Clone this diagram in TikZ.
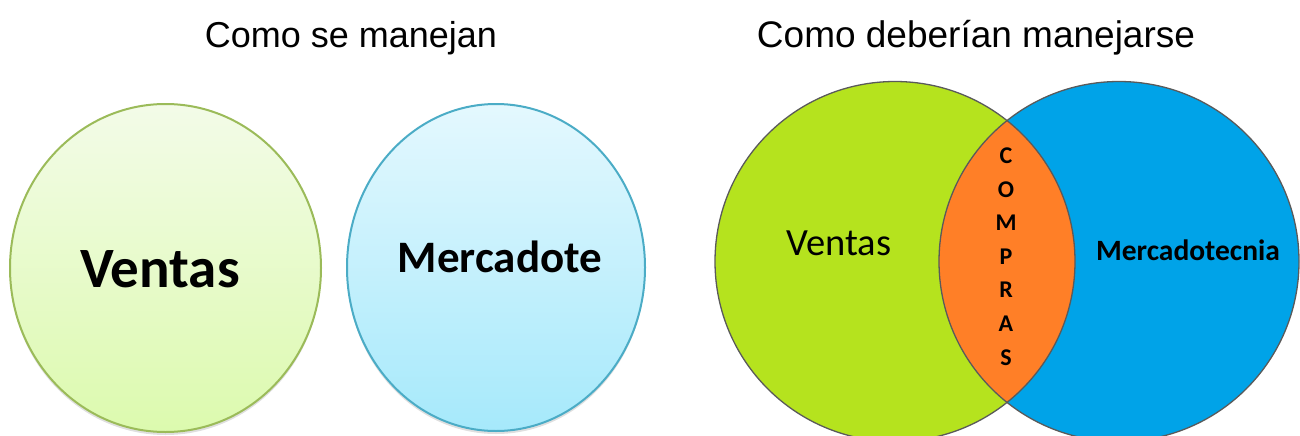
\documentclass[tikz,border=0pt]{standalone}
\usepackage{fontspec}
\setmainfont{Liberation Sans}
\newfontfamily\calibri{Carlito}
\usetikzlibrary{shapes.geometric, shadows}
\definecolor{olivegreen}{HTML}{9BBB59}
\definecolor{palegreentop}{HTML}{F3FBE8}
\definecolor{palegreenbot}{HTML}{DCFAAE}
\definecolor{aquaedge}{HTML}{4BACC6}
\definecolor{paleaquatop}{HTML}{E4F8FE}
\definecolor{paleaquabot}{HTML}{A6E9FB}
\definecolor{limegreen}{HTML}{B5E31E}
\definecolor{skyblue}{HTML}{00A3E8}
\definecolor{tangerine}{HTML}{FF7F27}
\definecolor{rimgray}{HTML}{5A5A5A}

\begin{document}
\begin{tikzpicture}[
            x=1pt, y=-1pt,
            title/.style={anchor=base, font=\fontsize{36}{40}\selectfont},
            blob/.style={ellipse, inner sep=0pt, line width=2pt, shading=axis,
                         drop shadow={opacity=0.25, shadow xshift=0pt, shadow yshift=-3pt}},
            venn/.style={circle, minimum size=360pt, inner sep=0pt},
            rim/.style={draw=rimgray, line width=1.3pt},
            letter/.style={anchor=base, font=\calibri\bfseries\fontsize{24}{26}\selectfont}
        ]
            \useasboundingbox (0,0) rectangle (1300,436);

            % titles
            \node[title] (howis) at (351,48) {Como se manejan};
            \node[title, font=\fontsize{37}{40}\selectfont] (howshould) at (976,48) {Como deberían manejarse};

            % como se manejan
            \node[blob, draw=olivegreen, top color=palegreentop, bottom color=palegreenbot,
                  minimum width=311pt, minimum height=328pt] (ventasA) at (165.5,268) {};
            \node[blob, draw=aquaedge, top color=paleaquatop, bottom color=paleaquabot,
                  minimum width=298pt, minimum height=327pt] (mercaA) at (496,267.5) {};
            \node[anchor=base, font=\calibri\bfseries\fontsize{57}{60}\selectfont] (ventasAtxt) at (160,287) {Ventas};
            \node[anchor=base, font=\calibri\bfseries\fontsize{45}{48}\selectfont] (mercaAtxt) at (500,272) {Mercadote};

            % como deberian manejarse
            \node[venn, fill=limegreen] (ventasB) at (895,261.5) {};
            \node[venn, fill=skyblue] (mercaB) at (1119,261.5) {};
            \begin{scope}
                \clip (ventasB.center) circle[radius=180];
                \fill[tangerine] (mercaB.center) circle[radius=180];
            \end{scope}
            \draw[rim] (ventasB.center) circle[radius=180];
            \draw[rim] (mercaB.center) circle[radius=180];

            \node[anchor=base, font=\calibri\fontsize{38.5}{40}\selectfont] (ventasBtxt) at (839,255) {Ventas};
            \node[anchor=base, font=\calibri\bfseries\fontsize{29.5}{32}\selectfont] (mercaBtxt) at (1188,260) {Mercadotecnia};
            \foreach \l [count=\i from 0] in {C,O,M,P,R,A,S}
                \node[letter] (compras\i) at (1006,163.5+33.6*\i) {\l};
        \end{tikzpicture}
\end{document}
